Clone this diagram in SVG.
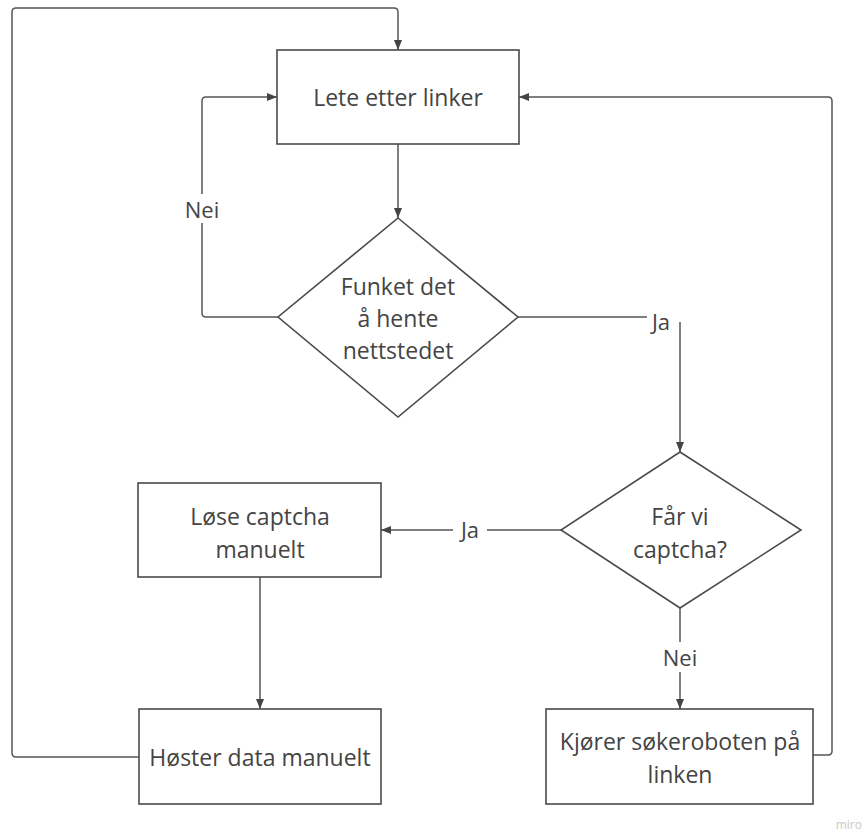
<svg xmlns="http://www.w3.org/2000/svg" width="866" height="832" viewBox="0 0 866 832">
<style>
.node{fill:#ffffff;stroke:#4a4a4a;stroke-width:1.6}
.t{font-family:"Open Sans","Noto Sans","Liberation Sans",sans-serif;font-size:23px;fill:#444444;text-anchor:middle;dominant-baseline:central}
.lbl{font-family:"Open Sans","Noto Sans","Liberation Sans",sans-serif;font-size:22px;fill:#444444;text-anchor:middle;dominant-baseline:central}
.c{fill:none;stroke:#555555;stroke-width:1.5;stroke-linejoin:round}
.bg{fill:#ffffff;stroke:none}
.wm{font-family:"Open Sans","Liberation Sans",sans-serif;font-size:12px;fill:#c8c8c8;text-anchor:end}
</style>
<defs>
<marker id="arr" markerUnits="userSpaceOnUse" markerWidth="10" markerHeight="10" viewBox="0 0 10 10" refX="10" refY="5" orient="auto">
<path d="M0,1 L10,5 L0,9 Z" fill="#444444"/>
</marker>
</defs>
<rect width="866" height="832" fill="#ffffff"/>
<g id="connectors">
<path class="c" d="M139,757 H16 Q12,757 12,753 V12 Q12,8 16,8 H394 Q398,8 398,12 V50" marker-end="url(#arr)"/>
<path class="c" d="M813,755 H828 Q832,755 832,751 V101 Q832,97 828,97 H519" marker-end="url(#arr)"/>
<path class="c" d="M398,144 V218" marker-end="url(#arr)"/>
<path class="c" d="M278,317 H206 Q202,317 202,313 V101 Q202,97 206,97 H277" marker-end="url(#arr)"/>
<path class="c" d="M518,317 H676 Q680,317 680,321 V452" marker-end="url(#arr)"/>
<path class="c" d="M561,530 H381" marker-end="url(#arr)"/>
<path class="c" d="M680,608 V709" marker-end="url(#arr)"/>
<path class="c" d="M260,577 V709" marker-end="url(#arr)"/>
<rect class="bg" x="185" y="194" width="34" height="29"/>
<text class="lbl" x="202" y="209">Nei</text>
<rect class="bg" x="647" y="304" width="36" height="18"/>
<text class="lbl" x="661" y="321">Ja</text>
<rect class="bg" x="453" y="516" width="34" height="28"/>
<text class="lbl" x="470" y="529">Ja</text>
<rect class="bg" x="662" y="642" width="36" height="30"/>
<text class="lbl" x="680" y="657">Nei</text>
</g>
<g id="n-lete">
<rect class="node" x="277" y="50" width="242" height="94"/>
<text class="t" x="398" y="97">Lete etter linker</text>
</g>
<g id="n-funket">
<polygon class="node" points="398,218 518,317 398,417 278,317"/>
<text class="t" x="398" y="286">Funket det</text>
<text class="t" x="398" y="318">å hente</text>
<text class="t" x="398" y="350">nettstedet</text>
</g>
<g id="n-captcha">
<polygon class="node" points="680,452 801,530 680,608 561,530"/>
<text class="t" x="680" y="516">Får vi</text>
<text class="t" x="680" y="549">captcha?</text>
</g>
<g id="n-lose">
<rect class="node" x="138" y="483" width="243" height="94"/>
<text class="t" x="260" y="516">Løse captcha</text>
<text class="t" x="260" y="549">manuelt</text>
</g>
<g id="n-hoster">
<rect class="node" x="139" y="709" width="242" height="95"/>
<text class="t" x="260" y="757">Høster data manuelt</text>
</g>
<g id="n-kjorer">
<rect class="node" x="546" y="709" width="267" height="95"/>
<text class="t" x="680" y="741">Kjører søkeroboten på</text>
<text class="t" x="680" y="774">linken</text>
</g>
<text class="wm" x="862" y="829">miro</text>
</svg>
